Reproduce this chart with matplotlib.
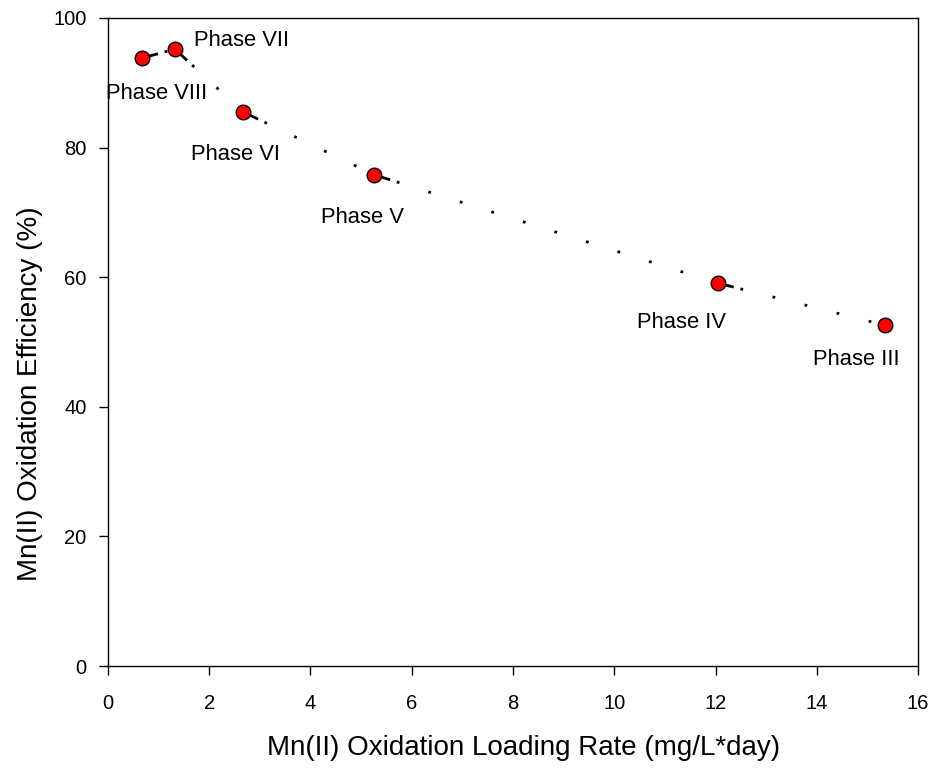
import numpy as np
import matplotlib
matplotlib.use("Agg")
import matplotlib.pyplot as plt

plt.rcParams["font.family"] = ["Liberation Sans", "DejaVu Sans"]

# data
loading_rate = [0.67, 1.32, 2.67, 5.26, 12.04, 15.34]
efficiency = [93.8, 95.2, 85.5, 75.8, 59.1, 52.6]
phase_names = ["Phase VIII", "Phase VII", "Phase VI", "Phase V", "Phase IV", "Phase III"]

# label offsets (pixels) relative to each marker
label_offsets = [(15, -35), (67, 9), (-8, -43), (-12, -43), (-36, -39), (-28, -34)]

fig = plt.figure(figsize=(9.38, 7.72), dpi=100)
ax = fig.add_axes([0.1151, 0.1373, 0.8636, 0.8394])

# dotted connecting line, pattern restarts on every segment
dot_style = (0, [6, 2.5] + [1, 10.9] * 40)
for i in range(len(loading_rate) - 1):
    ax.plot(loading_rate[i:i + 2], efficiency[i:i + 2], color="black", lw=2,
            linestyle=dot_style, solid_capstyle="butt", dash_capstyle="butt", zorder=2)

ax.plot(loading_rate, efficiency, "o", ls="none", ms=10.5, mfc="red", mec="black", mew=1.0, zorder=3)

for x, y, name, (dx, dy) in zip(loading_rate, efficiency, phase_names, label_offsets):
    ax.annotate(name, (x, y), xytext=(dx * 0.72, dy * 0.72), textcoords="offset points",
                ha="center", va="center", fontsize=15.8)

ax.set_xlim(0, 16)
ax.set_ylim(0, 100)
ax.set_xticks(np.arange(0, 17, 2))
ax.set_yticks(np.arange(0, 101, 20))
ax.tick_params(direction="out", length=6.5, width=1, labelsize=14.5)
ax.tick_params(axis="x", pad=14)
ax.tick_params(axis="y", pad=9)
for s in ax.spines.values():
    s.set_linewidth(1.0)

ax.set_xlabel("Mn(II) Oxidation Loading Rate (mg/L*day)", fontsize=20)
ax.set_ylabel("Mn(II) Oxidation Efficiency (%)", fontsize=20)
ax.xaxis.label.set_va("center")
ax.yaxis.label.set_va("center")
ax.xaxis.set_label_coords(0.5136, -0.1265)
ax.yaxis.set_label_coords(-0.0963, 0.4198)

fig.savefig("out.png", dpi=100)
